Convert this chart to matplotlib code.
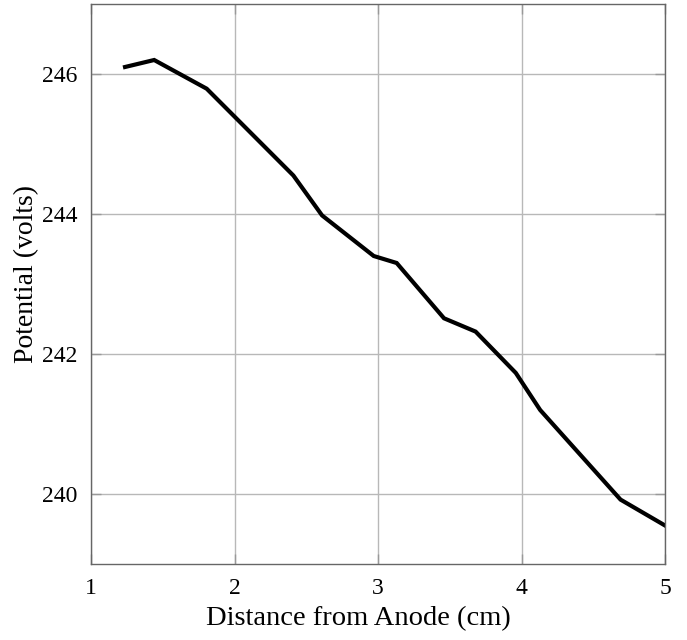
import matplotlib
matplotlib.use("Agg")
import matplotlib.pyplot as plt

distance_cm = [1.237, 1.44, 1.806, 2.41, 2.61, 2.97, 3.13, 3.46, 3.68, 3.96, 4.13, 4.69, 5.0]
potential_v = [246.10, 246.20, 245.79, 244.55, 243.98, 243.40, 243.30, 242.51, 242.32, 241.73, 241.20, 239.92, 239.55]

x_ticks = [1, 2, 3, 4, 5]
y_ticks = [240, 242, 244, 246]

plt.rcParams['font.family'] = ['Liberation Serif', 'DejaVu Serif']

fig = plt.figure(figsize=(6.87, 6.4), dpi=100)
ax = fig.add_axes([0.1325, 0.11875, 0.8355, 0.875])

ax.plot(distance_cm, potential_v, color='black', linewidth=3.0, solid_joinstyle='miter')

ax.set_xlim(1, 5)
ax.set_ylim(239, 247)
ax.set_xticks(x_ticks)
ax.set_yticks(y_ticks)
ax.grid(True, color='#b8b8b8', linewidth=1.0)
ax.set_axisbelow(True)

ax.tick_params(direction='in', length=7, width=1, color='#999999',
               top=True, right=True, labelsize=17, pad=10)
for spine in ax.spines.values():
    spine.set_color('#666666')
    spine.set_linewidth(1.0)

ax.set_xlabel("Distance from Anode (cm)", fontsize=20.5)
ax.set_ylabel("Potential (volts)", fontsize=20)
ax.xaxis.set_label_coords(0.465, -0.075)
ax.yaxis.set_label_coords(-0.09, 0.518)

fig.savefig("out.png", dpi=100)
